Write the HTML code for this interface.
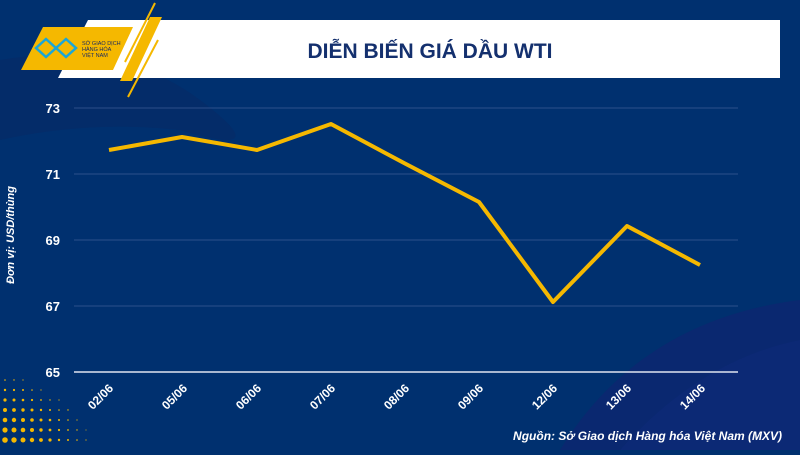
<!DOCTYPE html>
<html><head><meta charset="utf-8"><style>
body{margin:0;width:800px;height:450px;overflow:hidden;background:#00306f;font-family:"Liberation Sans",sans-serif}
</style></head><body>
<svg width="800" height="450" viewBox="0 0 800 450" xmlns="http://www.w3.org/2000/svg">
<rect width="800" height="450" fill="#00306f"/>
<path d="M0 60 Q120 40 200 100 T180 130 Q90 120 0 140Z" fill="#062a66" opacity="0.6"/>
<path d="M560 450 Q640 320 800 300 L800 450Z" fill="#0a2870"/>
<path d="M620 450 Q700 360 800 340 L800 450Z" fill="#0d2a78" opacity="0.7"/>
<g fill="#f5b800">
<circle cx="5" cy="380" r="0.8"/><circle cx="14" cy="380" r="0.7"/><circle cx="23" cy="380" r="0.6"/>
<circle cx="5" cy="390" r="1.2"/><circle cx="14" cy="390" r="1.1"/><circle cx="23" cy="390" r="1"/><circle cx="32" cy="390" r="0.8"/><circle cx="41" cy="390" r="0.6"/>
<circle cx="5" cy="400" r="1.6"/><circle cx="14" cy="400" r="1.5"/><circle cx="23" cy="400" r="1.3"/><circle cx="32" cy="400" r="1.1"/><circle cx="41" cy="400" r="0.9"/><circle cx="50" cy="400" r="0.7"/><circle cx="59" cy="400" r="0.6"/>
<circle cx="5" cy="410" r="2"/><circle cx="14" cy="410" r="1.9"/><circle cx="23" cy="410" r="1.7"/><circle cx="32" cy="410" r="1.5"/><circle cx="41" cy="410" r="1.2"/><circle cx="50" cy="410" r="1"/><circle cx="59" cy="410" r="0.8"/><circle cx="68" cy="410" r="0.7"/>
<circle cx="5" cy="420" r="2.3"/><circle cx="14" cy="420" r="2.2"/><circle cx="23" cy="420" r="2"/><circle cx="32" cy="420" r="1.8"/><circle cx="41" cy="420" r="1.5"/><circle cx="50" cy="420" r="1.3"/><circle cx="59" cy="420" r="1"/><circle cx="68" cy="420" r="0.8"/><circle cx="77" cy="420" r="0.6"/>
<circle cx="5" cy="430" r="2.6"/><circle cx="14" cy="430" r="2.5"/><circle cx="23" cy="430" r="2.3"/><circle cx="32" cy="430" r="2"/><circle cx="41" cy="430" r="1.7"/><circle cx="50" cy="430" r="1.4"/><circle cx="59" cy="430" r="1.1"/><circle cx="68" cy="430" r="0.9"/><circle cx="77" cy="430" r="0.7"/><circle cx="86" cy="430" r="0.5"/>
<circle cx="5" cy="440" r="2.8"/><circle cx="14" cy="440" r="2.7"/><circle cx="23" cy="440" r="2.5"/><circle cx="32" cy="440" r="2.2"/><circle cx="41" cy="440" r="1.9"/><circle cx="50" cy="440" r="1.6"/><circle cx="59" cy="440" r="1.2"/><circle cx="68" cy="440" r="1"/><circle cx="77" cy="440" r="0.8"/><circle cx="86" cy="440" r="0.6"/>
</g>
<polygon points="88,20 780,20 780,78 58,78" fill="#fff"/>
<polygon points="43,27 133,27 113,70 21,70" fill="#f5b800"/>
<line x1="155" y1="3" x2="125" y2="62" stroke="#f5b800" stroke-width="2"/>
<line x1="158" y1="40" x2="128" y2="97" stroke="#f5b800" stroke-width="2"/>
<polygon points="150,17 162,17 132,81 120,81" fill="#f5b800"/>
<g fill="none" stroke="#1aa6d8" stroke-width="2.5"><path d="M36 48 L46 39 L56 48 L66 39 L76 48 L66 57 L56 48 L46 57Z"/></g>
<text x="82" y="45" font-size="5.5" fill="#1a2a60">SỞ GIAO DỊCH</text>
<text x="82" y="51" font-size="5.5" fill="#1a2a60">HÀNG HÓA</text>
<text x="82" y="57" font-size="5.5" fill="#1a2a60">VIỆT NAM</text>
<text x="430" y="58" font-size="21" font-weight="bold" fill="#14306e" text-anchor="middle">DIỄN BIẾN GIÁ DẦU WTI</text>
<g stroke="#3a5a95" stroke-width="0.8">
<line x1="74" y1="108" x2="738" y2="108"/><line x1="74" y1="174" x2="738" y2="174"/><line x1="74" y1="240" x2="738" y2="240"/><line x1="74" y1="306" x2="738" y2="306"/>
</g>
<line x1="74" y1="372" x2="738" y2="372" stroke="#dfe4f0" stroke-width="1.5"/>
<g fill="#fff" font-size="13" font-weight="bold" text-anchor="end">
<text x="60" y="113">73</text><text x="60" y="179">71</text><text x="60" y="245">69</text><text x="60" y="311">67</text><text x="60" y="377">65</text>
</g>
<text transform="translate(14,235) rotate(-90)" fill="#fff" font-size="11" font-weight="bold" font-style="italic" text-anchor="middle">Đơn vị: USD/thùng</text>
<polyline fill="none" stroke="#f5b800" stroke-width="4" stroke-linejoin="round" points="109,150 182,137 257,150 331,124 404,163 479,202 553,302 627,226 700,265"/>
<g fill="#fff" font-size="12" font-weight="bold" text-anchor="end">
<text transform="translate(114,389) rotate(-45)">02/06</text>
<text transform="translate(188,389) rotate(-45)">05/06</text>
<text transform="translate(262,389) rotate(-45)">06/06</text>
<text transform="translate(336,389) rotate(-45)">07/06</text>
<text transform="translate(410,389) rotate(-45)">08/06</text>
<text transform="translate(484,389) rotate(-45)">09/06</text>
<text transform="translate(558,389) rotate(-45)">12/06</text>
<text transform="translate(632,389) rotate(-45)">13/06</text>
<text transform="translate(706,389) rotate(-45)">14/06</text>
</g>
<text x="782" y="440" fill="#fff" font-size="12" font-weight="bold" font-style="italic" text-anchor="end">Nguồn: Sở Giao dịch Hàng hóa Việt Nam (MXV)</text>
</svg>
</body></html>
